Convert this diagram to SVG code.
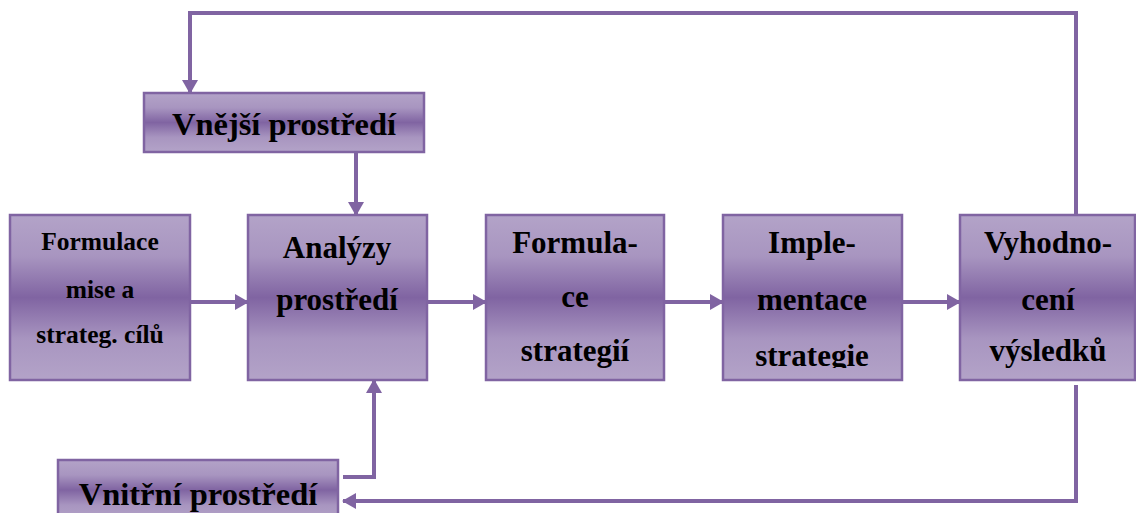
<svg xmlns="http://www.w3.org/2000/svg" width="1136" height="513" viewBox="0 0 1136 513">
<defs>
<linearGradient id="g" x1="0" y1="0" x2="0" y2="1">
<stop offset="0" stop-color="#b3a3c8"/>
<stop offset="0.25" stop-color="#a895c0"/>
<stop offset="0.5" stop-color="#8064a2"/>
<stop offset="0.75" stop-color="#a895c0"/>
<stop offset="1" stop-color="#b3a3c8"/>
</linearGradient>
<marker id="ah" markerUnits="userSpaceOnUse" markerWidth="14" markerHeight="16" refX="13" refY="8" orient="auto">
<path d="M0,0 L14,8 L0,16 Z" fill="#8064a2"/>
</marker>
<clipPath id="clip4"><rect x="723" y="215" width="179" height="153"/></clipPath>
<style>
.box{fill:url(#g);stroke:#8064a2;stroke-width:2.5}
.t{font-family:"Liberation Serif","Times New Roman",serif;font-weight:bold;fill:#000;text-anchor:middle}
.m{font-size:31px}
.s{font-size:25.5px}
.l{font-size:32.5px}
.c{fill:none;stroke:#8064a2;stroke-width:4}
</style>
</defs>
<g id="connectors">
<line class="c" x1="190" y1="302" x2="248" y2="302" marker-end="url(#ah)"/>
<line class="c" x1="427" y1="302" x2="486" y2="302" marker-end="url(#ah)"/>
<line class="c" x1="664" y1="302" x2="723" y2="302" marker-end="url(#ah)"/>
<line class="c" x1="902" y1="302" x2="960" y2="302" marker-end="url(#ah)"/>
<polyline class="c" points="1076,215 1076,13 190,13 190,93" marker-end="url(#ah)"/>
<line class="c" x1="356" y1="152" x2="356" y2="215" marker-end="url(#ah)"/>
<polyline class="c" points="1076,385 1076,501 343,501" marker-end="url(#ah)"/>
<polyline class="c" points="343,477 374,477 374,380" marker-end="url(#ah)"/>
</g>
<g id="n1">
<rect class="box" x="10" y="215" width="180" height="165"/>
<text class="t s" x="100" y="250">Formulace</text>
<text class="t s" x="100" y="298">mise a</text>
<text class="t s" x="100" y="343">strateg. cílů</text>
</g>
<g id="n2">
<rect class="box" x="248" y="215" width="179" height="165"/>
<text class="t m" x="337" y="258">Analýzy</text>
<text class="t m" x="337" y="310">prostředí</text>
</g>
<g id="n3">
<rect class="box" x="486" y="215" width="178" height="165"/>
<text class="t m" x="575" y="253">Formula-</text>
<text class="t m" x="575" y="307">ce</text>
<text class="t m" x="575" y="361">strategií</text>
</g>
<g id="n4">
<rect class="box" x="723" y="215" width="179" height="165"/>
<g clip-path="url(#clip4)">
<text class="t m" x="812" y="253">Imple-</text>
<text class="t m" x="812" y="310">mentace</text>
<text class="t m" x="812" y="366">strategie</text>
</g>
</g>
<g id="n5">
<rect class="box" x="960" y="215" width="175" height="165"/>
<text class="t m" x="1048" y="253">Vyhodno-</text>
<text class="t m" x="1048" y="310">cení</text>
<text class="t m" x="1048" y="361">výsledků</text>
</g>
<g id="n6">
<rect class="box" x="144" y="93" width="280" height="59"/>
<text class="t l" x="284" y="135">Vnější prostředí</text>
</g>
<g id="n7">
<rect class="box" x="58" y="460" width="280" height="60"/>
<text class="t l" x="198" y="505">Vnitřní prostředí</text>
</g>
</svg>
